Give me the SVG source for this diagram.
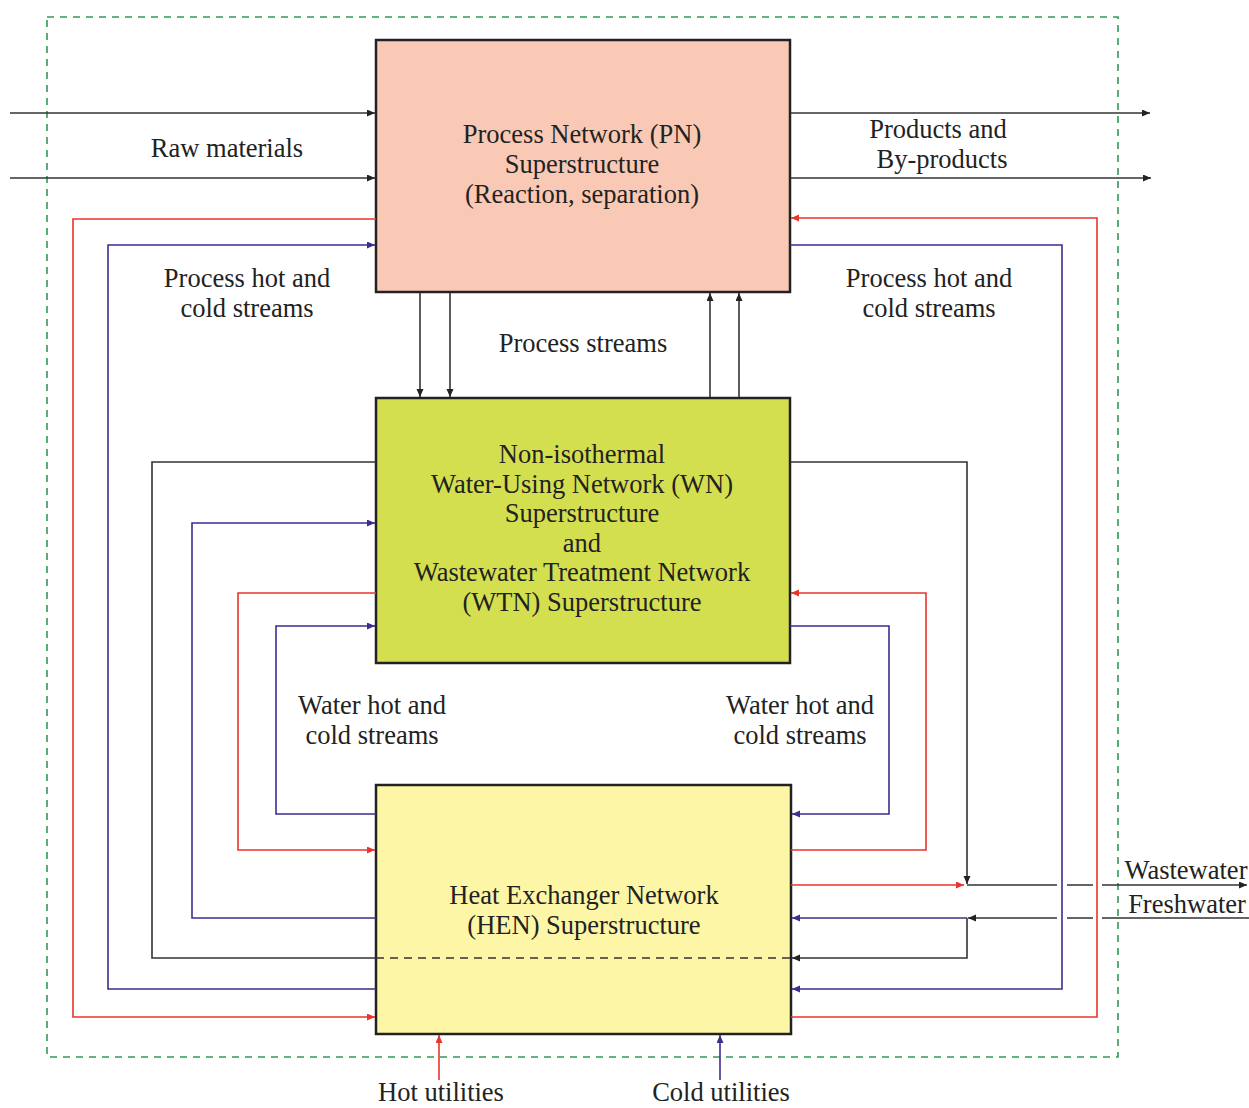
<svg xmlns="http://www.w3.org/2000/svg" width="1249" height="1108" viewBox="0 0 1249 1108">
<style>
text{font-family:"Liberation Serif","Times New Roman",serif;font-size:26.5px;fill:#222;text-anchor:middle}
.box{stroke:#222;stroke-width:2.5}
.k{stroke:#333;stroke-width:1.6;fill:none}
.r{stroke:#e8342b;stroke-width:1.6;fill:none}
.p{stroke:#3d2d8e;stroke-width:1.6;fill:none}
</style>
<defs>
<marker id="ak" markerUnits="userSpaceOnUse" markerWidth="10" markerHeight="8" refX="8" refY="3.5" orient="auto"><path d="M0,0 L8,3.5 L0,7 z" fill="#222"/></marker>
<marker id="ar" markerUnits="userSpaceOnUse" markerWidth="10" markerHeight="8" refX="8" refY="3.5" orient="auto"><path d="M0,0 L8,3.5 L0,7 z" fill="#e8342b"/></marker>
<marker id="ap" markerUnits="userSpaceOnUse" markerWidth="10" markerHeight="8" refX="8" refY="3.5" orient="auto"><path d="M0,0 L8,3.5 L0,7 z" fill="#3d2d8e"/></marker>
</defs>
<rect width="1249" height="1108" fill="#fff"/>
<rect id="boundary" x="47" y="17" width="1071" height="1040" fill="none" stroke="#2e9a55" stroke-width="1.6" stroke-dasharray="7,6"/>

<g id="PN">
<rect class="box" x="376" y="40" width="414" height="252" fill="#f9c9b5"/>
<text x="582" y="143">Process Network (PN)</text>
<text x="582" y="173">Superstructure</text>
<text x="582" y="203">(Reaction, separation)</text>
</g>
<g id="WN">
<rect class="box" x="376" y="398" width="414" height="265" fill="#d4df4f"/>
<text x="582" y="463">Non-isothermal</text>
<text x="582" y="493">Water-Using Network (WN)</text>
<text x="582" y="522">Superstructure</text>
<text x="582" y="552">and</text>
<text x="582" y="581">Wastewater Treatment Network</text>
<text x="582" y="611">(WTN) Superstructure</text>
</g>
<g id="HEN">
<rect class="box" x="376" y="785" width="415" height="249" fill="#fdf6a7"/>
<text x="584" y="904">Heat Exchanger Network</text>
<text x="584" y="934">(HEN) Superstructure</text>
</g>

<g id="connectors">
<path class="k" d="M10,113 H375" marker-end="url(#ak)"/>
<path class="k" d="M10,178 H375" marker-end="url(#ak)"/>
<path class="k" d="M791,113 H1150" marker-end="url(#ak)"/>
<path class="k" d="M791,178 H1151" marker-end="url(#ak)"/>
<path class="k" d="M420,293 V397" marker-end="url(#ak)"/>
<path class="k" d="M450,293 V397" marker-end="url(#ak)"/>
<path class="k" d="M710,397 V293" marker-end="url(#ak)"/>
<path class="k" d="M739,397 V293" marker-end="url(#ak)"/>
<path class="r" d="M376,219 H73 V1017 H375" marker-end="url(#ar)"/>
<path class="p" d="M376,989 H108 V245 H375" marker-end="url(#ap)"/>
<path class="k" d="M376,462 H152 V958 H376"/>
<path class="k" d="M376,958 H790" stroke-dasharray="8,6"/>
<path class="p" d="M376,918 H192 V523 H375" marker-end="url(#ap)"/>
<path class="r" d="M376,593 H238 V850 H375" marker-end="url(#ar)"/>
<path class="p" d="M376,814 H276 V626 H375" marker-end="url(#ap)"/>
<path class="k" d="M790,462 H967 V884" marker-end="url(#ak)"/>
<path class="p" d="M790,626 H889 V814 H792" marker-end="url(#ap)"/>
<path class="r" d="M791,850 H926 V593 H791" marker-end="url(#ar)"/>
<path class="p" d="M790,245 H1062 V989 H792" marker-end="url(#ap)"/>
<path class="r" d="M791,1017 H1097 V218 H791" marker-end="url(#ar)"/>
<path class="r" d="M791,885 H964" marker-end="url(#ar)"/>
<path class="k" d="M967,885 H1057 M1067,885 H1093"/>
<path class="k" d="M1102,885 H1247" marker-end="url(#ak)"/>
<path class="k" d="M1249,918 H1102 M1093,918 H1067"/>
<path class="k" d="M1057,918 H968" marker-end="url(#ak)"/>
<path class="p" d="M967,918 H792" marker-end="url(#ap)"/>
<path class="k" d="M967,918 V958 H792" marker-end="url(#ak)"/>
<path class="r" d="M439,1080 V1035" marker-end="url(#ar)"/>
<path class="p" d="M720,1080 V1035" marker-end="url(#ap)"/>
</g>

<g id="labels">
<text x="227" y="157">Raw materials</text>
<text x="938" y="138">Products and</text>
<text x="942" y="168">By-products</text>
<text x="247" y="287">Process hot and</text>
<text x="247" y="317">cold streams</text>
<text x="929" y="287">Process hot and</text>
<text x="929" y="317">cold streams</text>
<text x="583" y="352">Process streams</text>
<text x="372" y="714">Water hot and</text>
<text x="372" y="744">cold streams</text>
<text x="800" y="714">Water hot and</text>
<text x="800" y="744">cold streams</text>
<text x="1186" y="879">Wastewater</text>
<text x="1187" y="913">Freshwater</text>
<text x="441" y="1101">Hot utilities</text>
<text x="721" y="1101">Cold utilities</text>
</g>
</svg>
